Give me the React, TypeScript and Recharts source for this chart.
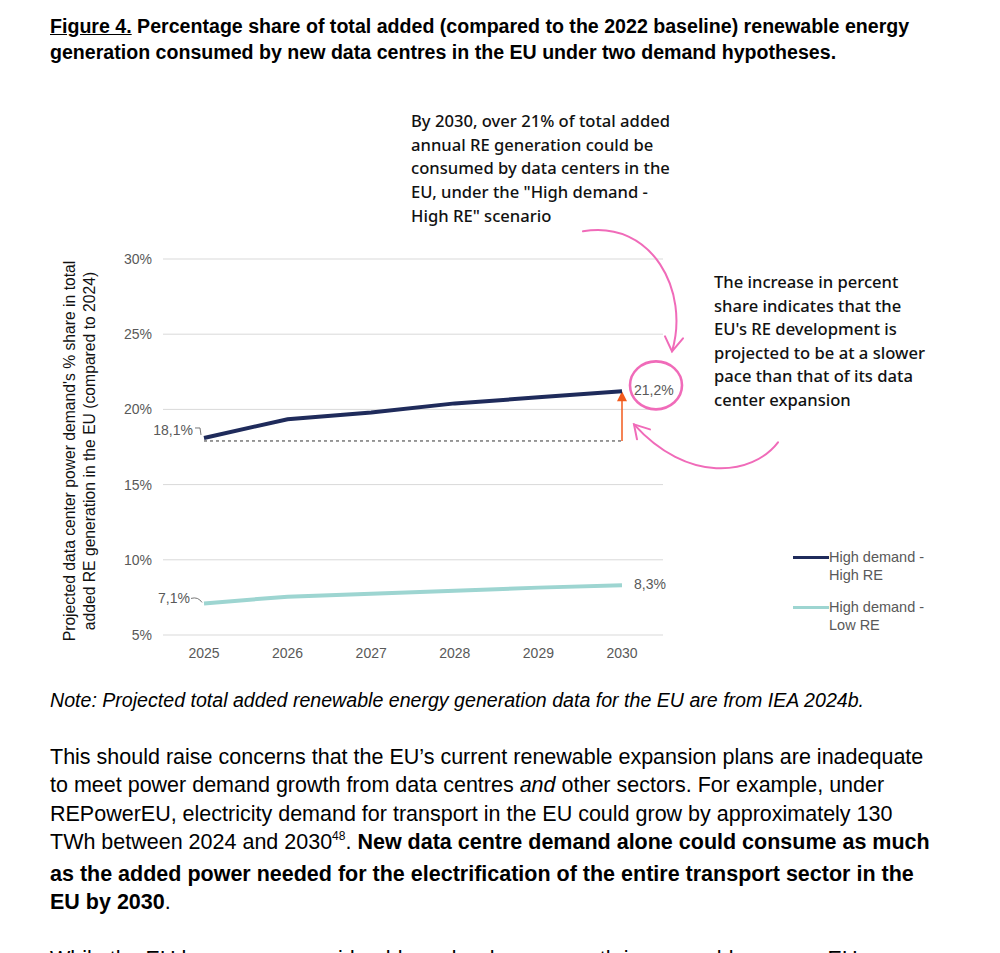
import React from "react";
import {
  LineChart,
  Line,
  XAxis,
  YAxis,
  CartesianGrid,
  LabelList,
  Label,
  ReferenceLine,
  ReferenceDot,
} from "recharts";

const YEARS = ["2025", "2026", "2027", "2028", "2029", "2030"];
const HIGH_RE = [18.1, 19.35, 19.8, 20.4, 20.8, 21.2];
const LOW_RE = [7.1, 7.55, 7.75, 7.95, 8.15, 8.3];
const Y_TICKS = [5, 10, 15, 20, 25, 30];
const BASELINE = 17.9;

const data = YEARS.map((year, i) => ({ year, high: HIGH_RE[i], low: LOW_RE[i] }));

const NAVY = "#1f2b5b";
const TEAL = "#9dd5d1";
const PINK = "#f06bb9";
const ORANGE = "#f25a1c";
const GREY = "#595959";
const TICK_FONT = "'Liberation Sans', Arial, sans-serif";
const NOTE_FONT = "'Noto Sans', sans-serif";

const fmt = (v: number) => v.toFixed(1).replace(".", ",") + "%";

const highLabel = (props: any) => {
  const { x, y, value, index } = props;
  if (index === 0) {
    return (
      <g>
        <text x={x - 11} y={y - 7} textAnchor="end" dominantBaseline="middle" fontSize={14} fill={GREY} fontFamily={TICK_FONT}>
          {fmt(value)}
        </text>
        <path d={`M${x - 9} ${y - 10} L${x - 4} ${y - 10} L${x - 3} ${y - 3}`} stroke="#777" fill="none" strokeWidth={1} />
      </g>
    );
  }
  if (index === YEARS.length - 1) {
    return (
      <text x={x + 12} y={y} dominantBaseline="middle" fontSize={14} fill={GREY} fontFamily={TICK_FONT}>
        {fmt(value)}
      </text>
    );
  }
  return null;
};

const lowLabel = (props: any) => {
  const { x, y, value, index } = props;
  if (index === 0) {
    return (
      <g>
        <text x={x - 14} y={y - 4} textAnchor="end" dominantBaseline="middle" fontSize={14} fill={GREY} fontFamily={TICK_FONT}>
          {fmt(value)}
        </text>
        <path d={`M${x - 13} ${y - 5} Q${x - 6} ${y - 7} ${x - 2} ${y - 1}`} stroke="#777" fill="none" strokeWidth={1} />
      </g>
    );
  }
  if (index === YEARS.length - 1) {
    return (
      <text x={x + 12} y={y} dominantBaseline="middle" fontSize={14} fill={GREY} fontFamily={TICK_FONT}>
        {fmt(value)}
      </text>
    );
  }
  return null;
};

const YTitle = (props: any) => {
  const { viewBox } = props;
  const cy = viewBox.y + viewBox.height / 2 + 4;
  const x1 = viewBox.x - 29;
  const x2 = viewBox.x - 9;
  return (
    <g fontFamily={TICK_FONT} fontSize={15.7} fill="#111">
      <text x={x1} y={cy} textAnchor="middle" dominantBaseline="middle" transform={`rotate(-90 ${x1} ${cy})`}>
        Projected data center power demand's % share in total
      </text>
      <text x={x2} y={cy} textAnchor="middle" dominantBaseline="middle" transform={`rotate(-90 ${x2} ${cy})`}>
        added RE generation in the EU (compared to 2024)
      </text>
    </g>
  );
};

// orange arrow going up from the dashed baseline to the 2030 value
const growthArrow = (props: any) => {
  const { x1, y1, x2, y2 } = props;
  const tipY = Math.min(y1, y2);
  const baseY = Math.max(y1, y2);
  return (
    <g>
      <line x1={x1} y1={baseY} x2={x2} y2={tipY + 8} stroke={ORANGE} strokeWidth={1.5} />
      <polygon points={`${x1 - 5},${tipY + 10} ${x1 + 5},${tipY + 10} ${x1},${tipY}`} fill={ORANGE} />
    </g>
  );
};

// hand-drawn pink circle and arrows around the last value
const pinkMarks = (props: any) => {
  const { cx, cy } = props;
  const ox = cx + 34;
  const oy = cy - 6;
  return (
    <g stroke={PINK} fill="none" strokeWidth={2} strokeLinecap="round">
      <ellipse cx={ox} cy={oy} rx={26} ry={24} strokeWidth={2.6} />
      <path d={`M${cx - 39} ${cy - 160} C${cx + 30} ${cy - 172} ${cx + 68} ${cy - 100} ${cx + 50} ${cy - 40}`} />
      <path d={`M${cx + 43} ${cy - 55} L${cx + 50} ${cy - 40} L${cx + 61} ${cy - 53}`} />
      <path d={`M${cx + 156} ${cy + 51} C${cx + 130} ${cy + 85} ${cx + 65} ${cy + 92} ${cx + 12} ${cy + 33}`} />
      <path d={`M${cx + 28} ${cy + 38} L${cx + 12} ${cy + 33} L${cx + 15} ${cy + 48}`} />
    </g>
  );
};

const LEGEND = [
  { color: NAVY, lines: ["High demand -", "High RE"], top: 548 },
  { color: TEAL, lines: ["High demand -", "Low RE"], top: 598 },
];

const abs = (left: number, top: number, extra: React.CSSProperties = {}): React.CSSProperties => ({
  position: "absolute",
  left,
  top,
  margin: 0,
  whiteSpace: "nowrap",
  ...extra,
});

export default function App() {
  return (
    <div style={{ position: "absolute", left: 0, top: 0, width: 1000, height: 953, overflow: "hidden", background: "#fff" }}>
      <div style={abs(50, 13, { fontFamily: TICK_FONT, fontWeight: 700, fontSize: 19.6, lineHeight: "26px", color: "#000" })}>
        <span style={{ textDecoration: "underline" }}>Figure 4.</span> Percentage share of total added (compared to the 2022 baseline) renewable energy
        <br />
        generation consumed by new data centres in the EU under two demand hypotheses.
      </div>

      <div style={{ position: "absolute", left: 0, top: 0 }}>
        <LineChart width={1000} height={680} data={data} margin={{ top: 259, right: 337, left: 100, bottom: 15 }}>
          <CartesianGrid vertical={false} stroke="#d9d9d9" strokeWidth={1} />
          <XAxis
            dataKey="year"
            axisLine={false}
            tickLine={false}
            height={30}
            padding={{ left: 41, right: 41 }}
            tickMargin={7}
            tick={{ fontSize: 14, fill: GREY, fontFamily: TICK_FONT }}
          />
          <YAxis
            domain={[5, 30]}
            ticks={Y_TICKS}
            width={63}
            axisLine={false}
            tickLine={false}
            tickMargin={5}
            tickFormatter={(v: number) => `${v}%`}
            tick={{ fontSize: 14, fill: GREY, fontFamily: TICK_FONT }}
          >
            <Label content={YTitle} />
          </YAxis>
          <ReferenceLine
            segment={[
              { x: YEARS[0], y: BASELINE },
              { x: YEARS[YEARS.length - 1], y: BASELINE },
            ]}
            stroke="#333"
            strokeDasharray="3 3"
            strokeWidth={1}
          />
          <ReferenceLine
            segment={[
              { x: YEARS[YEARS.length - 1], y: BASELINE },
              { x: YEARS[YEARS.length - 1], y: HIGH_RE[HIGH_RE.length - 1] },
            ]}
            shape={growthArrow}
          />
          <Line dataKey="high" stroke={NAVY} strokeWidth={4} dot={false} isAnimationActive={false}>
            <LabelList dataKey="high" content={highLabel} />
          </Line>
          <Line dataKey="low" stroke={TEAL} strokeWidth={4} dot={false} isAnimationActive={false}>
            <LabelList dataKey="low" content={lowLabel} />
          </Line>
          <ReferenceDot x={YEARS[YEARS.length - 1]} y={HIGH_RE[HIGH_RE.length - 1]} shape={pinkMarks} />
        </LineChart>
      </div>

      <div style={abs(411, 109, { fontFamily: NOTE_FONT, fontWeight: 500, fontSize: 16.6, lineHeight: "23.7px", color: "#111" })}>
        By 2030, over 21% of total added
        <br />
        annual RE generation could be
        <br />
        consumed by data centers in the
        <br />
        EU, under the "High demand -
        <br />
        High RE" scenario
      </div>

      <div style={abs(714, 270, { fontFamily: NOTE_FONT, fontWeight: 500, fontSize: 16.6, lineHeight: "23.5px", color: "#111" })}>
        The increase in percent
        <br />
        share indicates that the
        <br />
        EU's RE development is
        <br />
        projected to be at a slower
        <br />
        pace than that of its data
        <br />
        center expansion
      </div>

      {LEGEND.map((item) => (
        <div key={item.lines[1]} style={abs(793, item.top, { fontFamily: TICK_FONT, fontSize: 14.5, lineHeight: "18px", color: GREY })}>
          <span style={{ position: "absolute", left: 0, top: 8, width: 36, height: 3, background: item.color }} />
          <div style={{ marginLeft: 36 }}>
            {item.lines[0]}
            <br />
            {item.lines[1]}
          </div>
        </div>
      ))}

      <div style={abs(50, 688, { fontFamily: TICK_FONT, fontStyle: "italic", fontSize: 19.6, lineHeight: "24px", color: "#000" })}>
        Note: Projected total added renewable energy generation data for the EU are from IEA 2024b.
      </div>

      <div style={abs(50, 743, { fontFamily: TICK_FONT, fontSize: 21.5, lineHeight: "28.4px", color: "#000" })}>
        This should raise concerns that the EU’s current renewable expansion plans are inadequate
        <br />
        to meet power demand growth from data centres <i>and</i> other sectors. For example, under
        <br />
        REPowerEU, electricity demand for transport in the EU could grow by approximately 130
        <br />
        TWh between 2024 and 2030
        <span style={{ fontSize: 12, position: "relative", top: -9 }}>48</span>. <b>New data centre demand alone could consume as much</b>
        <br />
        <b>as the added power needed for the electrification of the entire transport sector in the</b>
        <br />
        <b>EU by 2030</b>.
        <br />
        <br />
        While the EU has seen a considerable and welcome growth in renewable energy, EU
      </div>
    </div>
  );
}
